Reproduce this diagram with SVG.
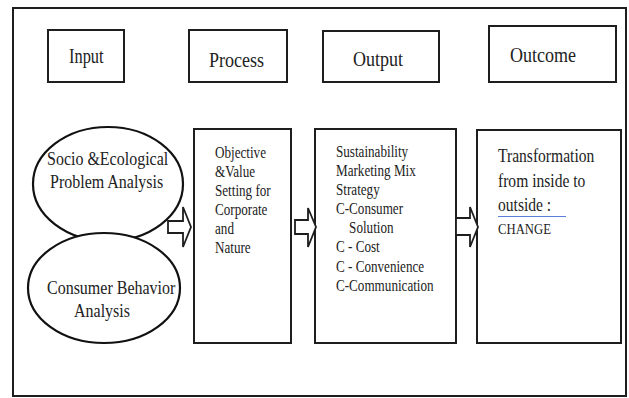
<svg xmlns="http://www.w3.org/2000/svg" width="629" height="398" viewBox="0 0 629 398">
  <style>
    .frame { fill: #ffffff; stroke: #1e1e1e; stroke-width: 2; }
    .box { fill: #ffffff; stroke: #1e1e1e; stroke-width: 2; }
    .oval { fill: #ffffff; stroke: #111111; stroke-width: 2.2; }
    .arrow { fill: #ffffff; stroke: #1e1e1e; stroke-width: 1.8; stroke-linejoin: miter; }
    .squiggle { fill: none; stroke: #4a6fd6; stroke-width: 0.9; }
  </style>

  <!-- outer frame -->
  <rect class="frame" x="13" y="8" width="613" height="388"/>

  <!-- column headings -->
  <g id="head-input">
    <rect class="box" x="48" y="30" width="76" height="52"/>
    <text font-family="Liberation Serif" font-size="20" fill="#222" transform="translate(69 63) scale(0.82 1)">Input</text>
  </g>
  <g id="head-process">
    <rect class="box" x="189" y="30" width="98" height="52"/>
    <text font-family="Liberation Serif" font-size="22" fill="#222" transform="translate(209 67) scale(0.82 1)">Process</text>
  </g>
  <g id="head-output">
    <rect class="box" x="323" y="31" width="116" height="51"/>
    <text font-family="Liberation Serif" font-size="22" fill="#222" transform="translate(353 66) scale(0.82 1)">Output</text>
  </g>
  <g id="head-outcome">
    <rect class="box" x="489" y="26" width="127" height="56"/>
    <text font-family="Liberation Serif" font-size="22" fill="#222" transform="translate(510 62) scale(0.82 1)">Outcome</text>
  </g>

  <!-- input ovals -->
  <g id="socio-ecological">
    <ellipse class="oval" cx="108" cy="184" rx="75" ry="57"/>
    <text font-family="Liberation Serif" font-size="19.5" fill="#222" transform="translate(47 165) scale(0.82 1)">Socio &amp;Ecological</text>
    <text font-family="Liberation Serif" font-size="19.5" fill="#222" transform="translate(50 188) scale(0.82 1)">Problem Analysis</text>
  </g>
  <g id="consumer-behavior">
    <ellipse class="oval" cx="104" cy="288" rx="76" ry="55"/>
    <text font-family="Liberation Serif" font-size="19.5" fill="#222" transform="translate(47 294) scale(0.82 1)">Consumer Behavior</text>
    <text font-family="Liberation Serif" font-size="19.5" fill="#222" transform="translate(74 317) scale(0.82 1)">Analysis</text>
  </g>

  <!-- process box -->
  <g id="objective-setting">
    <rect class="box" x="194" y="129" width="97" height="214"/>
    <text font-family="Liberation Serif" font-size="16" fill="#222" transform="translate(215 0) scale(0.82 1)">
      <tspan x="0" y="158">Objective</tspan>
      <tspan x="0" y="177">&amp;Value</tspan>
      <tspan x="0" y="196">Setting for</tspan>
      <tspan x="0" y="215">Corporate</tspan>
      <tspan x="0" y="234">and</tspan>
      <tspan x="0" y="253">Nature</tspan>
    </text>
  </g>

  <!-- output box -->
  <g id="marketing-mix">
    <rect class="box" x="315" y="129" width="141" height="214"/>
    <text font-family="Liberation Serif" font-size="16" fill="#222" transform="translate(336 0) scale(0.82 1)">
      <tspan x="0" y="157">Sustainability</tspan>
      <tspan x="0" y="176">Marketing Mix</tspan>
      <tspan x="0" y="195">Strategy</tspan>
      <tspan x="0" y="214">C-Consumer</tspan>
      <tspan x="16" y="233">Solution</tspan>
      <tspan x="0" y="252">C - Cost</tspan>
      <tspan x="0" y="272">C - Convenience</tspan>
      <tspan x="0" y="291">C-Communication</tspan>
    </text>
  </g>

  <!-- outcome box -->
  <g id="transformation">
    <rect class="box" x="477" y="130" width="144" height="213"/>
    <text font-family="Liberation Serif" font-size="19" fill="#222" transform="translate(498 0) scale(0.82 1)">
      <tspan x="0" y="162">Transformation</tspan>
      <tspan x="0" y="187">from inside to</tspan>
      <tspan x="0" y="211">outside :</tspan>
    </text>
    <text font-family="Liberation Serif" font-size="15.5" fill="#222" transform="translate(498 234) scale(0.82 1)">CHANGE</text>
    <path class="squiggle" d="M498 217 l1 -1 l1 1 l1 -1 l1 1 l1 -1 l1 1 l1 -1 l1 1 l1 -1 l1 1 l1 -1 l1 1 l1 -1 l1 1 l1 -1 l1 1 l1 -1 l1 1 l1 -1 l1 1 l1 -1 l1 1 l1 -1 l1 1 l1 -1 l1 1 l1 -1 l1 1 l1 -1 l1 1 l1 -1 l1 1 l1 -1 l1 1 l1 -1 l1 1 l1 -1 l1 1 l1 -1 l1 1 l1 -1 l1 1 l1 -1 l1 1 l1 -1 l1 1 l1 -1 l1 1 l1 -1 l1 1 l1 -1 l1 1 l1 -1 l1 1 l1 -1 l1 1 l1 -1 l1 1 l1 -1 l1 1 l1 -1 l1 1 l1 -1 l1 1 l1 -1 l1 1 l1 -1 l1 1"/>
  </g>

  <!-- block arrows -->
  <g id="connectors">
    <polygon class="arrow" points="168,221 183,221 183,207 191,227 183,247 183,233 168,233"/>
    <polygon class="arrow" points="295,220 308,220 308,208 316,227 308,247 308,234 295,234"/>
    <polygon class="arrow" points="456,218 470,218 470,207 478,227 470,247 470,235 456,235"/>
  </g>
</svg>
